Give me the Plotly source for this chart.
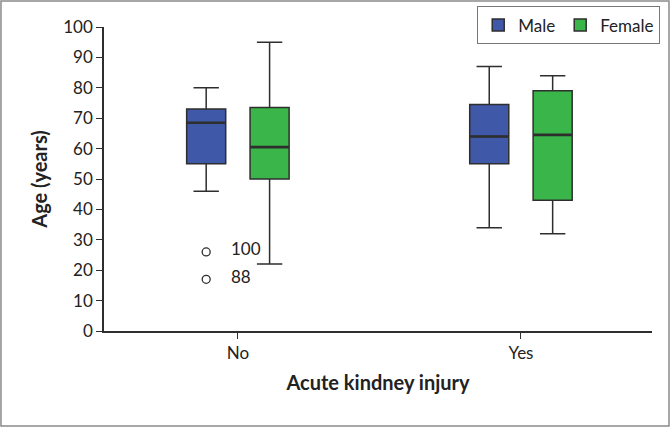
import plotly.graph_objects as go

categories = ["No", "Yes"]

male_q1 = [55, 55]
male_median = [68.5, 64]
male_q3 = [73, 74.5]
male_low = [46, 34]
male_high = [80, 87]
male_outliers = [[26, 17], []]
male_outlier_ids = [["100", "88"], []]

female_q1 = [50, 43]
female_median = [60.5, 64.5]
female_q3 = [73.5, 79]
female_low = [22, 32]
female_high = [95, 84]

BLUE = "#3F58A8"
GREEN = "#3AB54A"
LINE = "#2E2E2E"
FONT = "Lato"

fig = go.Figure()
fig.add_trace(go.Box(
    name="Male", x=categories, y=male_outliers, offsetgroup="m",
    q1=male_q1, median=male_median, q3=male_q3,
    lowerfence=male_low, upperfence=male_high,
    fillcolor=BLUE, line=dict(color=LINE, width=1.5),
    marker=dict(symbol="circle-open", color=LINE, size=8, line=dict(width=1.3)),
    boxpoints="outliers", whiskerwidth=0.65, pointpos=0, jitter=0,
))
fig.add_trace(go.Box(
    name="Female", x=categories, offsetgroup="f",
    q1=female_q1, median=female_median, q3=female_q3,
    lowerfence=female_low, upperfence=female_high,
    fillcolor=GREEN, line=dict(color=LINE, width=1.5),
    boxpoints=False, whiskerwidth=0.65,
))
# thicker median lines
for grp, med in (("m", male_median), ("f", female_median)):
    fig.add_trace(go.Box(
        x=categories, offsetgroup=grp, showlegend=False, hoverinfo="skip",
        q1=med, median=med, q3=med, lowerfence=med, upperfence=med,
        fillcolor="rgba(0,0,0,0)", line=dict(color=LINE, width=2.6),
        boxpoints=False, whiskerwidth=0,
    ))

# outlier case labels
for ci, (vals, ids) in enumerate(zip(male_outliers, male_outlier_ids)):
    for v, lab in zip(vals, ids):
        fig.add_annotation(x=categories[ci], y=v, text=lab, showarrow=False,
                           xanchor="left", yanchor="middle", xshift=-9, yshift=3,
                           font=dict(family=FONT, size=17, color="#222"))

# figure border
fig.add_shape(type="rect", xref="paper", yref="paper",
              x0=-0.188, x1=1.031, y0=-0.3125, y1=1.0855,
              line=dict(color="#8A8A8A", width=1.5), layer="below")

fig.update_layout(
    width=670, height=427,
    margin=dict(l=104, r=18, t=27, b=96, autoexpand=False),
    paper_bgcolor="white", plot_bgcolor="white",
    boxmode="group", boxgap=0.552, boxgroupgap=0.384,
    font=dict(family=FONT, size=17, color="#222"),
    showlegend=True,
    legend=dict(orientation="h", x=1.015, y=1.068, xanchor="right", yanchor="top",
                bordercolor="#777", borderwidth=1, bgcolor="white",
                font=dict(family=FONT, size=17, color="#222")),
    xaxis=dict(range=[-0.473, 1.463], showline=True, linecolor=LINE, linewidth=1.5,
               ticks="outside", ticklen=6, tickcolor=LINE, showgrid=False, zeroline=False,
               title=dict(text="<b>Acute kindney injury</b>", font=dict(family=FONT, size=20), standoff=14),
               tickfont=dict(family=FONT, size=17)),
    yaxis=dict(range=[0, 100], dtick=10, showline=True, linecolor=LINE, linewidth=1.5,
               ticks="outside", ticklen=6, tickcolor=LINE, showgrid=False, zeroline=False,
               title=dict(text="<b>Age (years)</b>", font=dict(family=FONT, size=20), standoff=10),
               tickfont=dict(family=FONT, size=17)),
)

fig.write_html("out.html", config={"displayModeBar": False},
               post_script="document.body.style.margin='0';")
